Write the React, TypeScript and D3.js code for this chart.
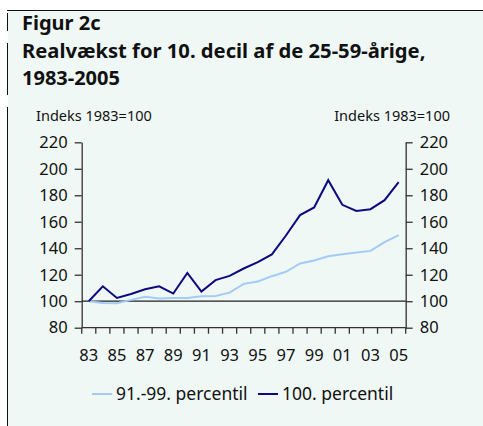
import React, { useEffect, useRef } from 'react';
import * as d3 from 'd3';

const years = ['83', '84', '85', '86', '87', '88', '89', '90', '91', '92', '93', '94', '95', '96', '97', '98', '99', '00', '01', '02', '03', '04', '05'];
const labelYears = ['83', '85', '87', '89', '91', '93', '95', '97', '99', '01', '03', '05'];
const p91to99 = [100, 98.7, 98.5, 101, 103.3, 102, 102.5, 102.5, 103.8, 104, 106.5, 113.1, 114.9, 118.9, 122.2, 128.5, 130.7, 134, 135.5, 136.8, 138, 144.6, 149.9];
const p100 = [100, 111.3, 102.5, 105.5, 109, 111.3, 105.8, 121.4, 107.3, 115.9, 119.1, 124.7, 129.5, 135.3, 149.6, 165, 170.8, 191.4, 172.8, 168.2, 169.5, 176.3, 189.9];
const yTicks = [80, 100, 120, 140, 160, 180, 200, 220];
const seriesNames = ['91.-99. percentil', '100. percentil'];
const seriesColors = ['#a3cbf7', '#0b0b7e'];

const W = 483;
const H = 426;
const BG = '#eff8f5';
const FONT = "'Noto Sans', sans-serif";

const App: React.FC = () => {
  const svgRef = useRef<SVGSVGElement>(null);

  useEffect(() => {
    if (!svgRef.current) return;
    d3.select(svgRef.current).selectAll('*').remove();

    const svg = d3.select(svgRef.current)
      .attr('width', W)
      .attr('height', H);

    // panel background and frame
    svg.append('rect').attr('x', 0).attr('y', 0).attr('width', W).attr('height', H).attr('fill', '#ffffff');
    svg.append('rect').attr('x', 8).attr('y', 10).attr('width', W - 8).attr('height', H - 10).attr('fill', BG);
    svg.append('line').attr('x1', 7).attr('x2', W).attr('y1', 10.5).attr('y2', 10.5)
      .attr('stroke', '#111').attr('stroke-width', 1);
    [[13, 31], [43, 95], [107, H]].forEach(([a, b]) => {
      svg.append('line').attr('x1', 7.5).attr('x2', 7.5).attr('y1', a).attr('y2', b)
        .attr('stroke', '#111').attr('stroke-width', 1);
    });

    // titles
    const title = svg.append('g').style('font-family', FONT).style('font-weight', 'bold').attr('fill', '#111');
    title.append('text').attr('x', 22).attr('y', 30).style('font-size', '20px').text('Figur 2c');
    title.append('text').attr('x', 22).attr('y', 58).style('font-size', '20.2px').text('Realvækst for 10. decil af de 25-59-årige,');
    title.append('text').attr('x', 22).attr('y', 85).style('font-size', '20px').text('1983-2005');

    svg.append('text').attr('x', 36).attr('y', 121).style('font-family', FONT).style('font-size', '14.5px')
      .attr('fill', '#111').text('Indeks 1983=100');
    svg.append('text').attr('x', 450).attr('y', 121).attr('text-anchor', 'end').style('font-family', FONT)
      .style('font-size', '14.5px').attr('fill', '#111').text('Indeks 1983=100');

    const left = 81.7;
    const right = 405.7;
    const top = 142.3;
    const bottom = 327.7;

    const x = d3.scaleBand<string>().domain(years).range([left, right]);
    const y = d3.scaleLinear().domain([80, 220]).range([bottom, top]);
    const axisColor = '#333';

    // left and right axes
    const gl = svg.append('g').attr('transform', `translate(${left},0)`)
      .call(d3.axisLeft(y).tickValues(yTicks).tickSize(7).tickPadding(7).tickSizeOuter(0));
    const gr = svg.append('g').attr('transform', `translate(${right},0)`)
      .call(d3.axisRight(y).tickValues(yTicks).tickSize(7).tickPadding(7).tickSizeOuter(0));
    [gl, gr].forEach(g => {
      g.select('.domain').attr('stroke', axisColor).attr('stroke-width', 1.3);
      g.selectAll('.tick line').attr('stroke', axisColor).attr('stroke-width', 1.3);
      g.selectAll('.tick text').style('font-family', FONT).style('font-size', '16.5px').attr('fill', '#111');
    });

    // bottom axis ticks at band boundaries
    const boundaries = years.map(d => x(d) as number).concat([right]);
    svg.append('line').attr('x1', left).attr('x2', right).attr('y1', bottom).attr('y2', bottom)
      .attr('stroke', axisColor).attr('stroke-width', 1.3);
    svg.append('g').selectAll('line').data(boundaries).enter().append('line')
      .attr('x1', d => d).attr('x2', d => d).attr('y1', bottom).attr('y2', bottom + 6)
      .attr('stroke', axisColor).attr('stroke-width', 1.3);
    svg.append('g').selectAll('text').data(labelYears).enter().append('text')
      .attr('x', d => (x(d) as number) + x.bandwidth() / 2)
      .attr('y', 361)
      .attr('text-anchor', 'middle')
      .style('font-family', FONT).style('font-size', '16.5px').attr('fill', '#111')
      .text(d => d);

    // 100 reference line
    svg.append('line').attr('x1', left).attr('x2', right).attr('y1', y(100)).attr('y2', y(100))
      .attr('stroke', '#222').attr('stroke-width', 1.2);

    const line = d3.line<number>()
      .x((_, i) => (x(years[i]) as number) + x.bandwidth() / 2)
      .y(d => y(d));

    [p91to99, p100].forEach((s, i) => {
      svg.append('path').datum(s).attr('d', line).attr('fill', 'none')
        .attr('stroke', seriesColors[i]).attr('stroke-width', 2);
    });

    // legend
    const legendX = [92, 258];
    seriesNames.forEach((name, i) => {
      svg.append('line').attr('x1', legendX[i]).attr('x2', legendX[i] + 20).attr('y1', 394).attr('y2', 394)
        .attr('stroke', seriesColors[i]).attr('stroke-width', 2);
      svg.append('text').attr('x', legendX[i] + 24).attr('y', 400)
        .style('font-family', FONT).style('font-size', '17.5px').attr('fill', '#111').text(name);
    });
  }, []);

  return <svg ref={svgRef} style={{ position: 'absolute', left: 0, top: 0 }}></svg>;
};

export default App;
